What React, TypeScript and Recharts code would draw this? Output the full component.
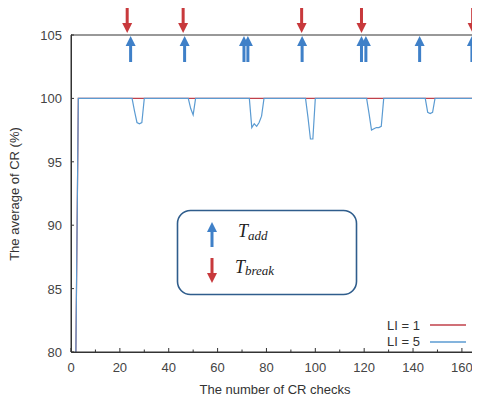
import { ComposedChart, Line, Scatter, XAxis, YAxis, Legend } from 'recharts';

const xTicks = [0, 10, 20, 30, 40, 50, 60, 70, 80, 90, 100, 110, 120, 130, 140, 150, 160];
const yTicks = [80, 85, 90, 95, 100, 105];

// LI = 1 stays at 100 once it gets there
const li1Checks = [2, 3, 167];
const li1Values = [80, 100, 100];

// LI = 5 dips a little after every break
const li5Checks = [
  2, 3,
  25, 26, 27, 28, 29, 30,
  48, 49, 50, 51,
  73, 74, 75, 76, 77, 78, 79,
  96, 97, 98, 99, 100,
  121, 122, 123, 124, 125, 126, 127, 128,
  145, 146, 147, 148, 149,
  165, 166, 167,
];
const li5Values = [
  80, 100,
  100, 99, 98.1, 98.0, 98.1, 100,
  100, 99.2, 98.7, 100,
  100, 97.7, 98.0, 97.8, 98.1, 98.6, 100,
  100, 98.5, 96.8, 96.8, 100,
  100, 98.8, 97.5, 97.6, 97.7, 97.7, 97.8, 100,
  100, 98.9, 98.8, 98.9, 100,
  100, 99.5, 99,
];

const tBreakChecks = [23.0, 45.9, 94.4, 118.9, 164.4];
const tAddChecks = [24.4, 46.5, 70.8, 72.4, 94.6, 118.9, 120.7, 142.7, 164.1, 165.7];

const RED = '#c8393c';
const BLUE = '#3f80c8';
const LI1_COLOR = '#c0404a';
const LI5_COLOR = '#5b9bd2';
const AXIS = '#333';
const FONT = '"Liberation Sans", Arial, sans-serif';

const toPoints = (xs: number[], ys: number[]) => xs.map((x, i) => ({ x, y: ys[i] }));
const li1Data = toPoints(li1Checks, li1Values);
const li5Data = toPoints(li5Checks, li5Values);
const breakData = tBreakChecks.map((x) => ({ x, y: 105 }));
const addData = tAddChecks.map((x) => ({ x, y: 105 }));

const DownArrow = (props: any) => {
  const { cx, cy } = props;
  return (
    <g>
      <rect x={cx - 1.5} y={cy - 27} width={3} height={17} fill={RED} />
      <polygon points={`${cx - 5},${cy - 12} ${cx + 5},${cy - 12} ${cx},${cy - 2}`} fill={RED} />
    </g>
  );
};

const UpArrow = (props: any) => {
  const { cx, cy } = props;
  return (
    <g>
      <rect x={cx - 1.5} y={cy + 10} width={3} height={17} fill={BLUE} />
      <polygon points={`${cx},${cy + 1} ${cx - 5},${cy + 11} ${cx + 5},${cy + 11}`} fill={BLUE} />
    </g>
  );
};

// ticks point into the plot, minor ones shorter
const BottomTick = (props: any) => {
  const { x, y, payload } = props;
  const major = payload.value % 20 === 0;
  return (
    <g>
      <rect x={x - 0.5} y={y - (major ? 4 : 2.5)} width={1} height={major ? 4 : 2.5} fill={AXIS} />
      {major && (
        <text x={x} y={y + 20} textAnchor="middle" fill="#444" fontSize={13} fontFamily={FONT}>
          {payload.value}
        </text>
      )}
    </g>
  );
};

const TopTick = (props: any) => {
  const { x, y, payload } = props;
  const major = payload.value % 20 === 0;
  return <rect x={x - 0.5} y={y} width={1} height={major ? 3 : 2} fill={AXIS} />;
};

const LeftTick = (props: any) => {
  const { x, y, payload } = props;
  return (
    <g>
      <rect x={x} y={y - 0.5} width={3} height={1} fill={AXIS} />
      <text x={x - 9} y={y + 5} textAnchor="end" fill="#444" fontSize={13} fontFamily={FONT}>
        {payload.value}
      </text>
    </g>
  );
};

const legendColors: Record<string, string> = { 'LI = 1': LI1_COLOR, 'LI = 5': LI5_COLOR };

const LiLegend = (props: any) => {
  const items = (props.payload || []).filter((p: any) => legendColors[p.value]);
  return (
    <div style={{ fontFamily: FONT, fontSize: 13, color: '#333' }}>
      {items.map((p: any) => (
        <div key={p.value} style={{ display: 'flex', alignItems: 'center', height: 16.6 }}>
          <span style={{ width: 43, whiteSpace: 'nowrap' }}>{p.value}</span>
          <svg width={36} height={4} style={{ display: 'block' }}>
            <line x1={0} x2={36} y1={2} y2={2} stroke={legendColors[p.value]} strokeWidth={1.3} />
          </svg>
        </div>
      ))}
    </div>
  );
};

const axisLine = { stroke: AXIS, strokeWidth: 1 };

export default function App() {
  return (
    <div style={{ position: 'relative', width: 472, height: 393 }}>
      <ComposedChart width={472} height={393} margin={{ top: 26, right: 1, bottom: 0, left: 0 }}>
        <XAxis
          dataKey="x"
          type="number"
          domain={[0, 167]}
          ticks={xTicks}
          interval={0}
          tickSize={0}
          tickMargin={0}
          tickLine={false}
          tick={BottomTick}
          height={49}
          axisLine={axisLine}
        />
        <XAxis
          xAxisId="top"
          orientation="top"
          dataKey="x"
          type="number"
          domain={[0, 167]}
          ticks={xTicks}
          interval={0}
          tickSize={0}
          tickMargin={0}
          tickLine={false}
          tick={TopTick}
          height={1}
          axisLine={axisLine}
        />
        <YAxis
          dataKey="y"
          type="number"
          domain={[80, 105]}
          ticks={yTicks}
          interval={0}
          tickSize={0}
          tickMargin={0}
          tickLine={false}
          tick={LeftTick}
          width={63}
          axisLine={axisLine}
        />
        <Legend layout="vertical" align="center" verticalAlign="middle" content={LiLegend} wrapperStyle={{ left: 379, top: 309, width: 90 }} />
        <Line data={li1Data} dataKey="y" name="LI = 1" stroke={LI1_COLOR} strokeWidth={1.2} dot={false} isAnimationActive={false} />
        <Line data={li5Data} dataKey="y" name="LI = 5" stroke={LI5_COLOR} strokeWidth={1.2} dot={false} isAnimationActive={false} />
        <Scatter data={breakData} dataKey="y" legendType="none" shape={DownArrow} isAnimationActive={false} />
        <Scatter data={addData} dataKey="y" legendType="none" shape={UpArrow} isAnimationActive={false} />
      </ComposedChart>
      <svg width={472} height={393} style={{ position: 'absolute', left: 0, top: 0, pointerEvents: 'none' }}>
        {/* frame of the plot: left and bottom edges */}
        <path d="M63.5,26.5 V344.5 H472" fill="none" stroke={AXIS} strokeWidth={1} />
        <g fontFamily={FONT} fontSize={13} fill="#333" textAnchor="middle">
          <text x={267} y={386}>The number of CR checks</text>
          <text x={0} y={0} transform="translate(10.5,186) rotate(-90)">The average of CR (%)</text>
        </g>
        <rect x={169.5} y={202.5} width={179} height={84} rx={13} fill="none" stroke="#2f5d8c" strokeWidth={1.6} />
        <g>
          <rect x={202.5} y={223} width={3} height={16} fill={BLUE} />
          <polygon points="204,214 199,224 209,224" fill={BLUE} />
          <rect x={202.5} y={250} width={3} height={16} fill={RED} />
          <polygon points="199,265 209,265 204,275" fill={RED} />
        </g>
        <g fontFamily='"Liberation Serif", "DejaVu Serif", serif' fontStyle="italic" fill="#222">
          <text x={230} y={229} fontSize={18}>T</text>
          <text x={240} y={232} fontSize={13}>add</text>
          <text x={227} y={265} fontSize={18}>T</text>
          <text x={237} y={267} fontSize={13}>break</text>
        </g>
      </svg>
    </div>
  );
}
